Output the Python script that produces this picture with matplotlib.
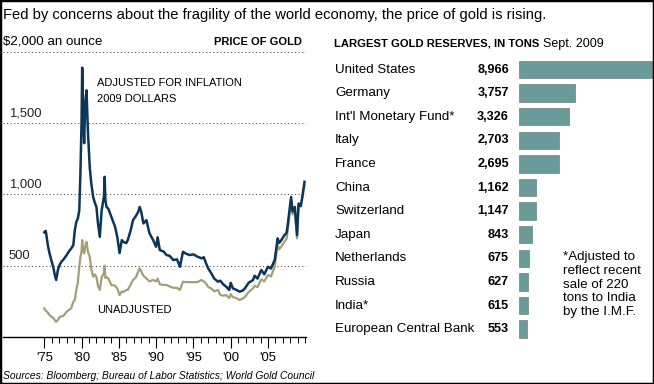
import matplotlib
matplotlib.use("Agg")
import matplotlib.pyplot as plt
import matplotlib.transforms as mtransforms
from matplotlib.patches import Rectangle

plt.rcParams['font.family'] = ['Liberation Sans', 'DejaVu Sans']

# price of gold, dollars an ounce
adj_years = [1975.0, 1975.2, 1975.5, 1975.7, 1976.0, 1976.2, 1976.4, 1976.6, 1976.8, 1976.9,
             1977.1, 1977.3, 1977.6, 1978.0, 1978.3, 1978.6, 1978.9, 1979.1, 1979.3, 1979.5,
             1979.7, 1979.85, 1980.0, 1980.09, 1980.2, 1980.35, 1980.5, 1980.67, 1980.85, 1981.1,
             1981.3, 1981.56, 1981.8, 1982.0, 1982.2, 1982.45, 1982.7, 1983.0, 1983.1, 1983.2,
             1983.35, 1983.6, 1984.0, 1984.5, 1984.8, 1985.1, 1985.4, 1985.6, 1986.0, 1986.2,
             1986.6, 1986.9, 1987.3, 1987.6, 1987.8, 1988.0, 1988.3, 1988.7, 1989.1, 1989.6,
             1990.0, 1990.2, 1990.5, 1991.0, 1991.4, 1991.8, 1992.3, 1992.8, 1993.2, 1993.6,
             1994.0, 1994.5, 1995.0, 1995.5, 1996.1, 1996.4, 1996.7, 1997.0, 1997.4, 1997.8,
             1998.3, 1998.6, 1999.0, 1999.4, 1999.8, 2000.0, 2000.3, 2000.8, 2001.2, 2001.6,
             2001.9, 2002.4, 2003.0, 2003.2, 2003.6, 2004.1, 2004.5, 2005.0, 2005.4, 2005.9,
             2006.3, 2006.5, 2006.8, 2007.2, 2007.5, 2007.7, 2008.1, 2008.3, 2008.6, 2008.9,
             2009.1, 2009.4, 2009.6, 2009.9]
adj_price = [735, 745, 640, 589, 530, 493, 440, 400, 460, 484,
             510, 528, 545, 575, 600, 620, 645, 750, 808, 830,
             890, 1150, 1500, 1890, 1600, 1360, 1650, 1731, 1450, 1192,
             1080, 983, 939, 913, 800, 703, 890, 983, 1124, 960,
             913, 900, 843, 773, 700, 589, 680, 668, 659, 680,
             750, 820, 850, 878, 913, 880, 797, 820, 729, 680,
             633, 700, 610, 600, 575, 570, 540, 545, 493, 598,
             585, 575, 580, 565, 552, 560, 517, 480, 447, 410,
             388, 395, 370, 353, 330, 380, 341, 330, 318, 325,
             341, 380, 400, 430, 410, 470, 440, 493, 480, 540,
             692, 660, 680, 715, 730, 808, 983, 880, 913, 715,
             937, 920, 983, 1089]

raw_years = adj_years
raw_price = [201, 185, 170, 154, 140, 135, 120, 107, 118, 125,
             142, 145, 150, 177, 190, 200, 247, 260, 330, 380,
             493, 560, 600, 680, 620, 587, 640, 668, 600, 563,
             480, 423, 440, 420, 360, 330, 420, 447, 500, 414,
             420, 410, 365, 360, 340, 294, 320, 315, 330, 330,
             370, 400, 420, 460, 482, 460, 430, 411, 390, 400,
             390, 410, 370, 365, 365, 355, 345, 345, 330, 388,
             385, 385, 385, 385, 400, 390, 375, 350, 341, 320,
             330, 295, 290, 294, 273, 300, 280, 272, 259, 270,
             280, 315, 341, 360, 350, 405, 390, 435, 425, 493,
             645, 615, 635, 668, 690, 770, 960, 860, 890, 692,
             920, 915, 975, 1066]

# largest gold reserves, tons (Sept. 2009)
holders = ['United States', 'Germany', "Int'l Monetary Fund*", 'Italy', 'France', 'China',
           'Switzerland', 'Japan', 'Netherlands', 'Russia', 'India*', 'European Central Bank']
tons = [8966, 3757, 3326, 2703, 2695, 1162, 1147, 843, 675, 627, 615, 553]

W, H = 654, 384
fig = plt.figure(figsize=(W / 100, H / 100), dpi=100)
fig.patch.set_facecolor('white')


def fx(px):
    return px / W


def fy(py):
    return 1 - py / H


BODY = 9.6
CAPS = 8.0

# ---- left: price of gold ----
ax = fig.add_axes([fx(3), fy(337), fx(306) - fx(3), (337 - 52) / H])
ax.set_xlim(1969.47, 2010.1)
ax.set_ylim(0, 2000)
for s in ['top', 'right', 'left']:
    ax.spines[s].set_visible(False)
ax.spines['bottom'].set_linewidth(1.0)
ax.spines['bottom'].set_color('black')
ax.patch.set_alpha(0)

for v in [500, 1000, 1500, 2000]:
    ax.axhline(v, color='#555555', lw=0.8, ls=(0, (1, 2.2)), zorder=1)

ax.plot(raw_years, raw_price, color='#a39f78', lw=1.6, zorder=3, solid_joinstyle='round')
ax.plot(adj_years, adj_price, color='#0b3658', lw=1.8, zorder=4, solid_joinstyle='round')

ax.set_xticks(range(1975, 2010, 5))
ax.set_xticklabels(["'75", "'80", "'85", "'90", "'95", "'00", "'05"], fontsize=9.4)
ax.set_xticks(range(1975, 2011), minor=True)
ax.tick_params(axis='x', which='major', length=8, width=0.8, pad=3)
ax.tick_params(axis='x', which='minor', length=4, width=0.7)
ax.set_yticks([])

bt = mtransforms.blended_transform_factory(fig.transFigure, ax.transData)
for v, lab in [(1500, '1,500'), (1000, '1,000'), (500, '500')]:
    ax.text(fx(9), v + 25, lab, transform=bt, fontsize=9.4, va='bottom', ha='left',
            color='#222222')

fig.text(fx(3), fy(42), '$2,000 an ounce', fontsize=BODY, va='center', ha='left')
fig.text(fx(302), fy(42), 'PRICE OF GOLD', fontsize=CAPS, fontweight='bold', va='center', ha='right')
fig.text(fx(97), fy(83), 'ADJUSTED FOR INFLATION', fontsize=CAPS, va='center', ha='left')
fig.text(fx(97), fy(99), '2009 DOLLARS', fontsize=CAPS, va='center', ha='left')
fig.text(fx(97), fy(310), 'UNADJUSTED', fontsize=CAPS, va='center', ha='left')

# ---- right: largest gold reserves ----
ax2 = fig.add_axes([fx(519), fy(341), fx(653) - fx(519), (341 - 57.7) / H])
ypos = list(range(len(holders)))
ax2.barh(ypos, tons, height=0.74, color='#6a9a99', edgecolor='#7d8c8c', linewidth=0.6)
ax2.set_xlim(0, 8990)
ax2.set_ylim(len(holders) - 0.5, -0.5)
ax2.axis('off')

bt2 = mtransforms.blended_transform_factory(fig.transFigure, ax2.transData)
for i, (name, t) in enumerate(zip(holders, tons)):
    ax2.text(fx(335), i, name, transform=bt2, fontsize=BODY, va='center', ha='left',
             clip_on=False)
    ax2.text(fx(509), i, f'{t:,}', transform=bt2, fontsize=9.1, fontweight='bold',
             va='center', ha='right', clip_on=False)

head = fig.text(fx(334), fy(44), 'LARGEST GOLD RESERVES, IN TONS', fontsize=8.1,
                fontweight='bold', va='center', ha='left')
fig.text(fx(543), fy(44), 'Sept. 2009', fontsize=9.0, va='center', ha='left')

fig.text(fx(563), fy(251), '*Adjusted to\nreflect recent\nsale of 220\ntons to India\nby the I.M.F.',
         fontsize=BODY, va='top', ha='left', linespacing=1.2)

fig.text(fx(3), fy(15), 'Fed by concerns about the fragility of the world economy, the price of gold is rising.',
         fontsize=10.6, va='center', ha='left')
fig.text(fx(3), fy(376), 'Sources: Bloomberg; Bureau of Labor Statistics; World Gold Council',
         fontsize=7.4, style='italic', va='center', ha='left')

# black frame round the graphic
fig.patches.append(Rectangle((0, 0), 1, 1, transform=fig.transFigure, fill=False,
                             edgecolor='black', linewidth=2.5, zorder=10))

fig.savefig('out.png', dpi=100)
